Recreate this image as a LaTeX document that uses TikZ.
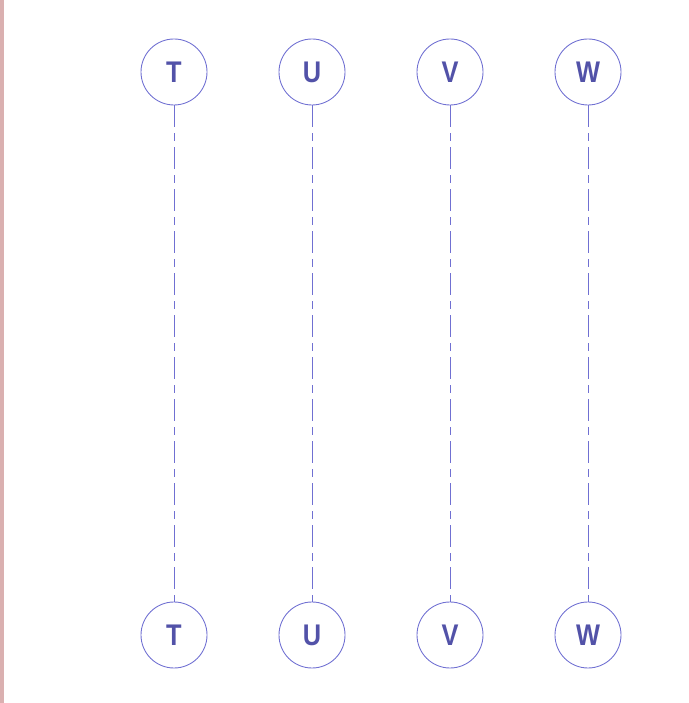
\documentclass[tikz,border=0pt]{standalone}
\usepackage{xcolor}
\usepackage{fontspec}
\setsansfont{Liberation Sans}
\usepackage{tikz}

\definecolor{lifeblue}{RGB}{112,112,210}
\definecolor{labelblue}{RGB}{82,82,168}
\definecolor{barpink}{RGB}{218,176,176}

\begin{document}
\begin{tikzpicture}
			\tikzstyle{actor} = [circle, draw=lifeblue, line width=0.5pt, minimum size=1.32cm, inner sep=0pt, text=labelblue, font=\sffamily\bfseries\fontsize{17}{18}\selectfont]
			\tikzset{lifeline/.style = {draw=lifeblue, line width=0.5pt, dash pattern=on 0.44cm off 0.12cm on 0.16cm off 0.12cm}}
			
			\useasboundingbox (0,0) rectangle (13.76,14.06);
			\fill[barpink] (0,0) rectangle (0.08,14.06);
			
			\node[actor](headT) at (3.48,12.62) {\scalebox{0.85}[1]{T}};
			\node[actor](headU) at (6.24,12.62) {\scalebox{0.85}[1]{U}};
			\node[actor](headV) at (9.00,12.62) {\scalebox{0.85}[1]{V}};
			\node[actor](headW) at (11.76,12.62) {\scalebox{0.85}[1]{W}};
			
			\node[actor](footT) at (3.48,1.36) {\scalebox{0.85}[1]{T}};
			\node[actor](footU) at (6.24,1.36) {\scalebox{0.85}[1]{U}};
			\node[actor](footV) at (9.00,1.36) {\scalebox{0.85}[1]{V}};
			\node[actor](footW) at (11.76,1.36) {\scalebox{0.85}[1]{W}};
			
			\draw[lifeline](headT) to (footT);
			\draw[lifeline](headU) to (footU);
			\draw[lifeline](headV) to (footV);
			\draw[lifeline](headW) to (footW);
			
			\end{tikzpicture}
\end{document}
